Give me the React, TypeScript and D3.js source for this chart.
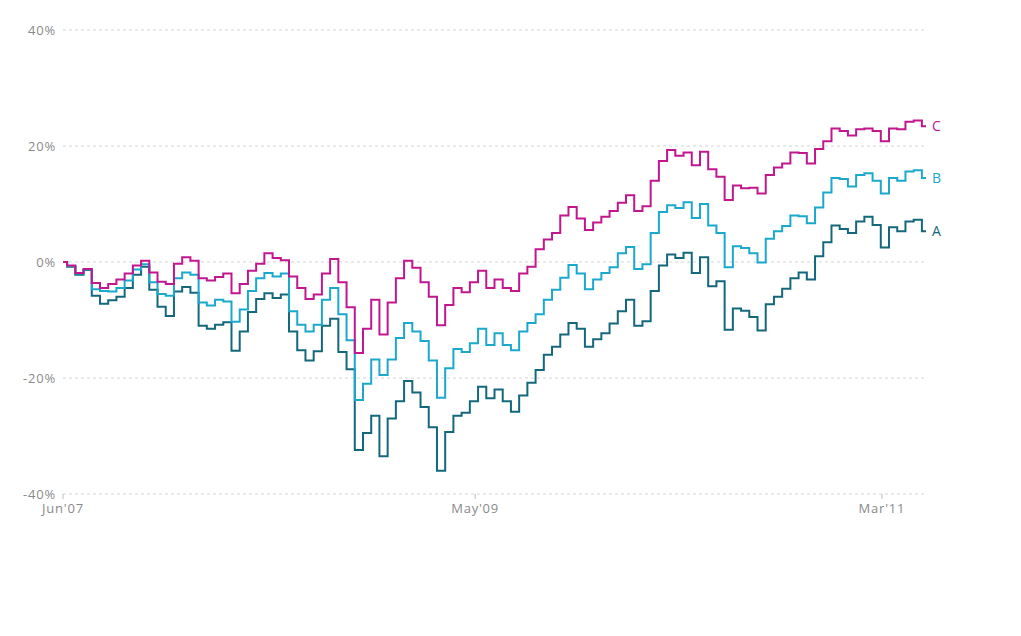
import React from "react";
import * as d3 from "d3";

const seriesNames = ["A", "B", "C"];
const seriesColors = ["#13687c", "#1aa9cc", "#c2168f"];
const yTicks = [-40, -20, 0, 20, 40];
const xTickDates = ["2007-06-01", "2009-05-03", "2011-03-27"];
const startDate = "2007-06-01";
const stepDays = 14;

const valuesA = [
  0, -0.8, -2.2, -1.4, -5.8, -7.2, -6.6, -6.0, -4.5, -2.2,
  -0.8, -4.8, -7.7, -9.3, -5.1, -4.3, -5.3, -11.0, -11.5, -10.8,
  -10.4, -15.3, -12.0, -8.6, -6.4, -5.4, -6.2, -5.6, -12.0, -15.2,
  -17.0, -15.4, -11.0, -9.8, -15.5, -18.5, -32.4, -29.5, -26.5, -33.5,
  -27.0, -24.0, -20.5, -22.5, -25.0, -28.5, -36.0, -29.3, -26.5, -26.0,
  -24.0, -21.5, -23.5, -22.0, -24.0, -25.8, -23.0, -20.8, -18.6, -16.0,
  -14.6, -12.5, -10.5, -11.5, -14.6, -13.3, -12.3, -10.6, -8.5, -6.5,
  -11.0, -10.2, -5.0, -0.6, 1.3, 0.7, 1.6, -1.9, 0.8, -4.2,
  -3.3, -11.7, -8.0, -8.4, -9.5, -11.8, -7.3, -6.0, -4.6, -2.8,
  -1.8, -3.0, 1.0, 3.4, 6.3, 5.7, 5.0, 7.0, 7.8, 6.4,
  2.5, 6.0, 5.3, 7.0, 7.3, 5.3,
];
const valuesB = [
  0, -0.7, -2.0, -1.3, -4.7, -5.0, -5.1, -4.5, -3.2, -1.3,
  -0.4, -3.5, -5.5, -5.8, -2.8, -1.8, -2.2, -7.0, -7.5, -6.5,
  -6.8, -10.3, -8.2, -5.0, -2.8, -1.9, -2.5, -2.0, -8.5, -10.8,
  -12.0, -10.8, -6.5, -4.5, -9.0, -13.5, -23.8, -21.0, -16.8, -19.5,
  -16.8, -13.1, -10.5, -12.0, -13.6, -17.0, -23.4, -18.3, -15.0, -15.5,
  -14.0, -11.5, -14.3, -12.3, -14.3, -15.2, -12.0, -10.5, -9.0, -6.5,
  -4.8, -2.7, -0.5, -2.0, -4.7, -3.0, -1.9, -0.9, 1.5, 2.6,
  -1.2, -0.4, 5.0, 8.6, 9.8, 9.3, 10.3, 7.6, 10.0, 6.3,
  5.0, -0.9, 2.7, 2.4, 1.5, -0.1, 4.0, 5.3, 6.2, 8.0,
  7.9, 6.7, 9.4, 12.0, 14.5, 14.3, 13.0, 15.0, 15.3, 14.0,
  11.8, 14.5, 14.0, 15.6, 15.8, 14.5,
];
const valuesC = [
  0, -0.6, -1.9, -1.2, -3.6, -4.5, -3.8, -3.0, -2.0, -0.6,
  0.2, -1.8, -3.4, -3.8, -0.3, 0.8, 0.2, -2.8, -3.2, -2.6,
  -2.0, -5.4, -3.8, -1.5, -0.3, 1.5, 0.7, 0.3, -2.5, -4.5,
  -6.4, -5.6, -2.0, 0.5, -3.5, -7.8, -15.7, -11.5, -6.5, -12.5,
  -7.0, -2.8, 0.2, -1.0, -3.5, -6.0, -10.9, -7.4, -4.5, -5.2,
  -3.5, -1.5, -4.5, -3.0, -4.5, -5.0, -2.0, -0.8, 2.2, 3.9,
  5.0, 8.0, 9.5, 7.5, 5.5, 6.8, 7.8, 8.8, 10.2, 11.5,
  8.8, 9.6, 14.0, 17.4, 19.3, 18.3, 18.9, 16.7, 19.0, 16.0,
  14.7, 10.7, 13.2, 12.7, 12.8, 11.8, 15.0, 16.3, 17.0, 18.9,
  18.8, 17.0, 19.5, 20.8, 23.0, 22.6, 21.8, 22.9, 23.0, 22.6,
  20.8, 23.0, 22.9, 24.2, 24.4, 23.4,
];

const allValues = [valuesA, valuesB, valuesC];
const DAY = 86400000;

export default function App() {
  const width = 1021;
  const height = 636;
  const left = 63;
  const right = 926;
  const top = 30;
  const bottom = 494;

  const t0 = new Date(startDate + "T00:00:00Z").getTime();
  const n = valuesA.length;
  const dates = d3.range(n).map((i) => new Date(t0 + i * stepDays * DAY));

  const x = d3
    .scaleUtc()
    .domain([dates[0], dates[n - 1]])
    .range([left, right]);
  const y = d3.scaleLinear().domain([-40, 40]).range([bottom, top]);

  const line = d3
    .line<number>()
    .x((_, i) => x(dates[i]))
    .y((v) => y(v))
    .curve(d3.curveStep);

  const fmt = d3.utcFormat("%b'%y");
  const font = "'Open Sans', Lato, sans-serif";

  return (
    <svg
      width={width}
      height={height}
      style={{ position: "absolute", left: 0, top: 0, background: "#fff" }}
      fontFamily={font}
    >
      {yTicks.map((t) => (
        <g key={t}>
          <line
            x1={left}
            x2={right}
            y1={y(t)}
            y2={y(t)}
            stroke="#d4d4d4"
            strokeWidth={1}
            strokeDasharray="3,3"
          />
          <text
            x={56}
            y={y(t)}
            dy="0.35em"
            textAnchor="end"
            fontSize={13}
            letterSpacing={0.8}
            fill="#8a8a8a"
          >
            {`${t}%`}
          </text>
        </g>
      ))}
      {xTickDates.map((d) => {
        const dt = new Date(d + "T00:00:00Z");
        const px = x(dt);
        return (
          <g key={d}>
            <line x1={px} x2={px} y1={bottom} y2={bottom + 5} stroke="#bdbdbd" />
            <text
              x={px}
              y={bottom + 19}
              textAnchor="middle"
              fontSize={13}
              letterSpacing={0.8}
              fill="#8a8a8a"
            >
              {fmt(dt)}
            </text>
          </g>
        );
      })}
      {allValues.map((vals, si) => (
        <path
          key={seriesNames[si]}
          d={line(vals) || ""}
          fill="none"
          stroke={seriesColors[si]}
          strokeWidth={2}
          strokeLinejoin="miter"
        />
      ))}
      {allValues.map((vals, si) => (
        <text
          key={"lbl" + si}
          x={right + 6}
          y={y(vals[n - 1])}
          dy="0.35em"
          fontSize={14}
          fill={seriesColors[si]}
        >
          {seriesNames[si]}
        </text>
      ))}
    </svg>
  );
}
